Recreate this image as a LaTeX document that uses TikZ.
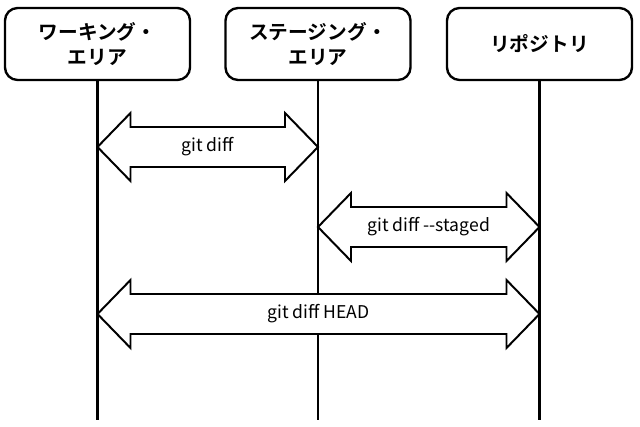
\documentclass[tikz,border=0pt]{standalone}
\usepackage{fontspec}
\usepackage{tikz}
\usetikzlibrary{%
	calc,%
	positioning
}
\newfontfamily\jpfont{Noto Sans CJK JP}[BoldFont={Noto Sans CJK JP Bold}]

\tikzset{
	area/.style={draw, line width=1.7pt, rounded corners=9pt, minimum width=4.625cm, minimum height=1.8cm,
		align=center, font=\jpfont\bfseries\fontsize{14}{18}\selectfont},
	lifeline/.style={line width=1.5pt},
	diffbox/.style={draw, line width=1.4pt, fill=white, line join=miter},
	difflabel/.style={font=\jpfont\fontsize{12.5}{15}\selectfont}
}

% double arrow between two points: #1 left end, #2 right end, #3 label
\newcommand{\diffarrow}[3]{%
	\draw[diffbox] (#1) -- ++(33,-34) -- ++(0,14) -- ($(#2)+(-33,-20)$) -- ++(0,-14) -- (#2)
		-- ++(-33,34) -- ++(0,-14) -- ($(#1)+(33,20)$) -- ++(0,14) -- cycle;
	\node[difflabel] at ($(#1)!0.5!(#2)$) {#3};
}

\begin{document}
\begin{tikzpicture}[x=0.025cm, y=-0.025cm]
		\useasboundingbox (0,0) rectangle (640,427);

		%Areas
		\node[area] (work) at (97.5,44) {ワーキング・\\エリア};
		\node[area] (stage) at (318,44) {ステージング・\\エリア};
		\node[area] (repo) at (539.5,44) {リポジトリ};

		% Lifelines
		\foreach \area in {work,stage,repo}
		{
			\coordinate (\area-end) at (\area.south |- 0,420);
			\draw[lifeline] (\area.south) -- (\area-end);
		}

		% Arrow ends
		\coordinate (work-a) at (work.south |- 0,147);
		\coordinate (stage-a) at (stage.south |- 0,147);
		\coordinate (stage-b) at (stage.south |- 0,227);
		\coordinate (repo-b) at (repo.south |- 0,227);
		\coordinate (work-c) at (work.south |- 0,314);
		\coordinate (repo-c) at (repo.south |- 0,314);

		% Diffs
		\diffarrow{work-a}{stage-a}{git diff}
		\diffarrow{stage-b}{repo-b}{git diff --{}staged}
		\diffarrow{work-c}{repo-c}{git diff HEAD}
	\end{tikzpicture}
\end{document}
